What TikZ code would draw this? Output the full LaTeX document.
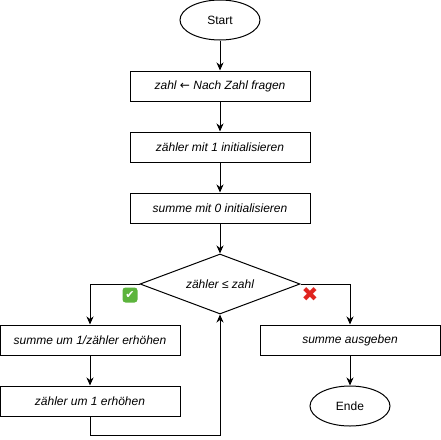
\documentclass[tikz,border=0pt]{standalone}
\usepackage{fontspec}
\setmainfont{Liberation Sans}
\newfontfamily\symfont{DejaVu Sans}
\usetikzlibrary{
  shapes.geometric,
  arrows.meta,
  positioning
}
\definecolor{OkGreen}{HTML}{5CB43C}
\definecolor{NoRed}{HTML}{E0241F}
\tikzset{
  % Start / end ellipse
  term/.style={
    ellipse, draw, line width=1pt,
    minimum width=80pt, minimum height=40pt, inner sep=0pt,
    font=\fontsize{12}{14}\selectfont
  },
  % Process box
  proc/.style={
    rectangle, draw, line width=1pt,
    minimum width=180pt, minimum height=30pt, inner sep=0pt,
    font=\fontsize{12}{14}\selectfont\itshape
  },
  % Decision diamond
  dec/.style={
    diamond, aspect=2.667, draw, line width=1pt,
    minimum width=160pt, minimum height=60pt, inner sep=0pt,
    font=\fontsize{12}{14}\selectfont\itshape
  },
  % Arrow
  arr/.style={
    -{Stealth[length=8pt,width=7pt,inset=2.5pt]},
    line width=1pt
  },
  % Branch marks
  okmark/.style={
    rectangle, rounded corners=3pt, fill=OkGreen, text=white,
    minimum size=15pt, inner sep=0pt, font=\symfont\fontsize{11}{11}\selectfont
  },
  nomark/.style={
    text=NoRed, inner sep=0pt, font=\symfont\fontsize{20}{20}\selectfont
  }
}
\begin{document}
\begin{tikzpicture}[x=1pt, y=1pt, node distance=30pt]
  \useasboundingbox (0,0) rectangle (441,-439);

  % Main column
  \node[term] (start) at (220,-20) {Start};
  \node[proc, below=30pt of start] (ask)   {zahl {\symfont\upshape ←} Nach Zahl fragen};
  \node[proc, below=30pt of ask]   (initz) {zähler mit 1 initialisieren};
  \node[proc, below=30pt of initz] (inits) {summe mit 0 initialisieren};
  \node[dec,  below=30pt of inits] (cond)  {zähler ≤ zahl};

  % Yes branch (left)
  \node[proc, below=10pt of cond.south, xshift=-130pt] (add) {summe um 1/zähler erhöhen};
  \node[proc, below=30pt of add]                     (incr) {zähler um 1 erhöhen};

  % No branch (right)
  \node[proc, below=10pt of cond.south, xshift=130pt] (out) {summe ausgeben};
  \node[term, below=30pt of out]                     (stop) {Ende};

  % Marks
  \node[okmark] (yes) at (130,-295) {✔};
  \node[nomark] (no)  at (310,-295) {✖};

  \draw[arr] (start) -- (ask);
  \draw[arr] (ask)   -- (initz);
  \draw[arr] (initz) -- (inits);
  \draw[arr] (inits) -- (cond);
  \draw[arr] (cond.west) -| (add.north);
  \draw[arr] (add)   -- (incr);
  \draw[arr] (incr.south) -- ++(0,-19pt) -| (cond.south);
  \draw[arr] (cond.east) -| (out.north);
  \draw[arr] (out)   -- (stop);

\end{tikzpicture}
\end{document}
